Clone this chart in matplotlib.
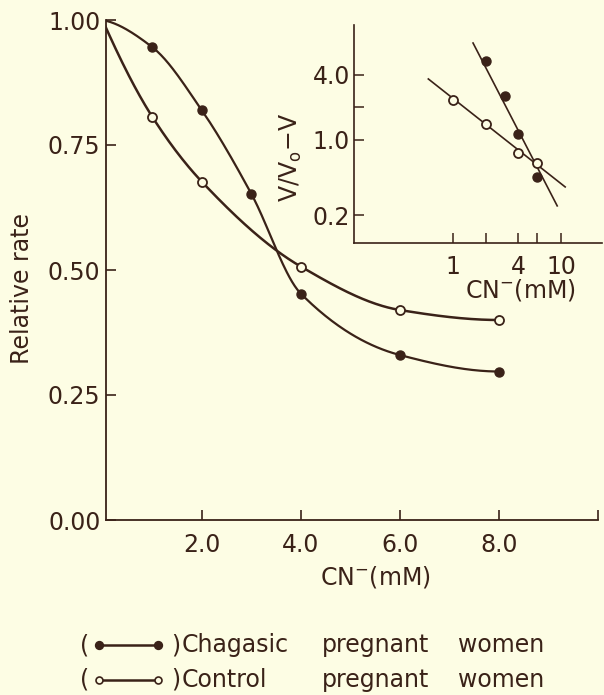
import numpy as np
import matplotlib
matplotlib.use('Agg')
import matplotlib.pyplot as plt
from matplotlib.lines import Line2D

# main plot data (relative rate vs CN- mM)
chag_x = [0, 1, 2, 3, 4, 6, 8]
chag_y = [1.0, 0.946, 0.82, 0.653, 0.453, 0.33, 0.297]
ctrl_x = [0, 1, 2, 4, 6, 8]
ctrl_y = [1.0, 0.807, 0.677, 0.507, 0.42, 0.40]

# inset (Hill plot, log-log)
hill_chag_x = [2, 3, 4, 6]
hill_chag_y = [5.4, 2.56, 1.14, 0.45]
hill_ctrl_x = [1, 2, 4, 6]
hill_ctrl_y = [2.35, 1.41, 0.76, 0.61]
fit_chag_x = [1.53, 9.2]
fit_chag_y = [7.9, 0.245]
fit_ctrl_x = [0.59, 10.9]
fit_ctrl_y = [3.67, 0.367]

main_xticks = [2, 4, 6, 8, 10]
main_xlabels = ['2.0', '4.0', '6.0', '8.0', '']
main_yticks = [0, 0.25, 0.5, 0.75, 1.0]
main_ylabels = ['0.00', '0.25', '0.50', '0.75', '1.00']
ins_xticks = [1, 2, 4, 6, 10]
ins_xlabels = ['1', '', '4', '', '10']
ins_yticks = [0.2, 1, 2, 4]
ins_ylabels = ['0.2', '1.0', '', '4.0']

ink = '#3a2218'
bg = '#fdfde4'
fs = 17


def pchip(x, y, n=300):
    # monotone cubic through the points, just for drawing the smooth curve
    x = np.asarray(x, float)
    y = np.asarray(y, float)
    m = len(x)
    h = np.diff(x)
    dl = np.diff(y) / h
    d = np.zeros(m)
    for k in range(1, m - 1):
        if dl[k - 1] * dl[k] > 0:
            w1 = 2 * h[k] + h[k - 1]
            w2 = h[k] + 2 * h[k - 1]
            d[k] = (w1 + w2) / (w1 / dl[k - 1] + w2 / dl[k])

    def end(h0, h1, d0, d1):
        s = ((2 * h0 + h1) * d0 - h0 * d1) / (h0 + h1)
        if np.sign(s) != np.sign(d0):
            s = 0.0
        elif np.sign(d0) != np.sign(d1) and abs(s) > abs(3 * d0):
            s = 3 * d0
        return s

    d[0] = end(h[0], h[1], dl[0], dl[1])
    d[-1] = end(h[-1], h[-2], dl[-1], dl[-2])
    xs = np.linspace(x[0], x[-1], n)
    idx = np.clip(np.searchsorted(x, xs) - 1, 0, m - 2)
    hh = h[idx]
    t = (xs - x[idx]) / hh
    h00 = 2 * t**3 - 3 * t**2 + 1
    h10 = t**3 - 2 * t**2 + t
    h01 = -2 * t**3 + 3 * t**2
    h11 = t**3 - t**2
    ys = h00 * y[idx] + h10 * hh * d[idx] + h01 * y[idx + 1] + h11 * hh * d[idx + 1]
    return xs, ys


plt.rcParams['font.family'] = 'DejaVu Sans'
fig = plt.figure(figsize=(6.04, 6.95), dpi=100)
fig.patch.set_facecolor(bg)

W, H = 604, 695
ax = fig.add_axes([106 / W, 1 - 520 / H, (598 - 106) / W, (520 - 20) / H])
ax.set_facecolor(bg)

xs, ys = pchip(chag_x, chag_y)
ax.plot(xs, ys, color=ink, lw=1.6)
xs, ys = pchip(ctrl_x, ctrl_y)
ax.plot(xs, ys, color=ink, lw=1.8)
ax.plot(chag_x[1:], chag_y[1:], 'o', color=ink, ms=6.5)
ax.plot(ctrl_x[1:], ctrl_y[1:], 'o', mfc=bg, mec=ink, mew=1.3, ms=6.5)

ax.set_xlim(0.07, 9.97)
ax.set_ylim(0, 1.0)
ax.set_xticks(main_xticks)
ax.set_xticklabels(main_xlabels)
ax.set_yticks(main_yticks)
ax.set_yticklabels(main_ylabels)
for s in ['top', 'right']:
    ax.spines[s].set_visible(False)
for s in ['left', 'bottom']:
    ax.spines[s].set_linewidth(1.3)
    ax.spines[s].set_color(ink)
ax.tick_params(direction='in', length=7, width=1.2, colors=ink,
               labelsize=fs, labelcolor=ink)
ax.tick_params(axis='x', pad=9)
ax.tick_params(axis='y', pad=4)
ax.set_xlabel(r'CN$^{-}$(mM)', fontsize=fs, color=ink, va='center')
ax.xaxis.set_label_coords(0.547, -0.114)
ax.set_ylabel('Relative rate', fontsize=fs, color=ink, va='center', ha='center')
ax.yaxis.set_label_coords(-0.171, 0.464)

# inset
ins = fig.add_axes([354 / W, 1 - 243 / H, (602 - 354) / W, (243 - 25) / H])
ins.patch.set_alpha(0)
ins.set_xscale('log')
ins.set_yscale('log')
ins.plot(fit_chag_x, fit_chag_y, color=ink, lw=1.2)
ins.plot(fit_ctrl_x, fit_ctrl_y, color=ink, lw=1.2)
ins.plot(hill_chag_x, hill_chag_y, 'o', color=ink, ms=6.5)
ins.plot(hill_ctrl_x, hill_ctrl_y, 'o', mfc=bg, mec=ink, mew=1.3, ms=6.5)
ins.set_xlim(0.121, 23.9)
ins.set_ylim(0.111, 11.6)
ins.set_xticks(ins_xticks)
ins.set_xticklabels(ins_xlabels)
ins.set_yticks(ins_yticks)
ins.set_yticklabels(ins_ylabels)
ins.minorticks_off()
for s in ['top', 'right']:
    ins.spines[s].set_visible(False)
for s in ['left', 'bottom']:
    ins.spines[s].set_linewidth(1.2)
    ins.spines[s].set_color(ink)
ins.tick_params(direction='in', length=7, width=1.1, colors=ink,
                labelsize=fs, labelcolor=ink)
ins.tick_params(axis='x', pad=9)
ins.tick_params(axis='y', pad=3)
ins.set_xlabel(r'CN$^{-}$(mM)', fontsize=fs, color=ink, va='center')
ins.xaxis.set_label_coords(0.669, -0.216)
ins.set_ylabel(r'V/V$_{\rm o}$$-$V', fontsize=fs, color=ink, va='center', ha='center')
ins.yaxis.set_label_coords(-0.254, 0.394)

# legend drawn as in the figure caption style
rows = [(645, True, 'Chagasic'), (680, False, 'Control')]
for ypx, filled, name in rows:
    yf = 1 - ypx / H
    fig.text(80 / W, yf, '(', fontsize=fs, color=ink, va='center')
    fig.add_artist(Line2D([99 / W, 158 / W], [yf, yf], transform=fig.transFigure,
                          color=ink, lw=1.8, marker='o', ms=5.5 if filled else 5,
                          mfc=ink if filled else bg, mec=ink, mew=1.2))
    fig.text(171 / W, yf, ')', fontsize=fs, color=ink, va='center')
    fig.text(182 / W, yf, name, fontsize=fs, color=ink, va='center')
    fig.text(322 / W, yf, 'pregnant', fontsize=fs, color=ink, va='center')
    fig.text(458 / W, yf, 'women', fontsize=fs, color=ink, va='center')

fig.savefig('out.png', dpi=100, facecolor=bg)
